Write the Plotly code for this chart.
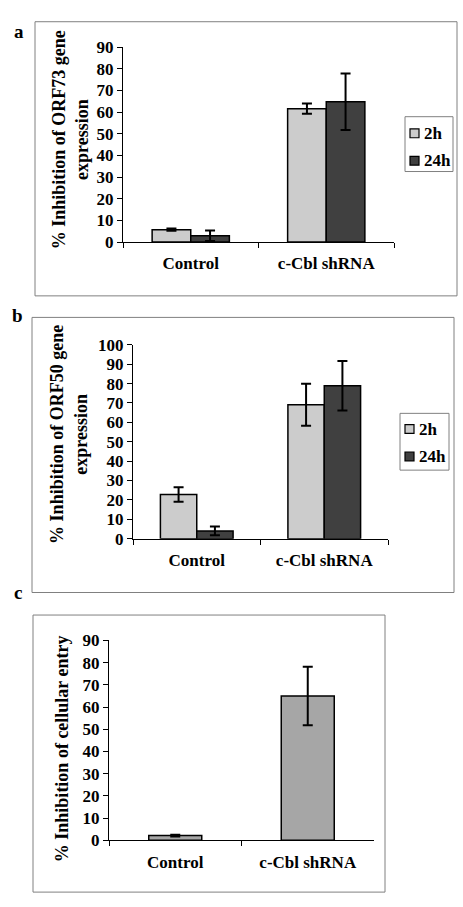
import plotly.graph_objects as go

# ---------------- data ----------------
categories = ["Control", "c-Cbl shRNA"]

# panel a: ORF73
a_2h = [5.7, 61.6]
a_2h_err = [0.5, 2.4]
a_24h = [2.9, 64.8]
a_24h_err = [2.4, 13.0]

# panel b: ORF50
b_2h = [22.8, 69.1]
b_2h_err = [3.7, 10.8]
b_24h = [4.0, 78.9]
b_24h_err = [2.3, 12.8]

# panel c: cellular entry
c_vals = [2.1, 65.0]
c_err = [0.4, 13.2]

series_names = ["2h", "24h"]

# ---------------- style ----------------
W, H = 463, 907
FONT = "Liberation Serif"
LIGHT = "#cccccc"
DARK = "#404040"
MID = "#a6a6a6"
series_colors = [LIGHT, DARK]
BOX = "#808080"


def fx(x):
    return x / W


def fy(y):
    return 1 - y / H


fig = go.Figure()

bar_line = dict(color="black", width=1.5)


def err(arr):
    return dict(type="data", array=arr, color="black", thickness=2, width=5, visible=True)


# panel a
fig.add_trace(go.Bar(x=categories, y=a_2h, error_y=err(a_2h_err), name=series_names[0],
                     marker=dict(color=LIGHT, line=bar_line), xaxis="x", yaxis="y"))
fig.add_trace(go.Bar(x=categories, y=a_24h, error_y=err(a_24h_err), name=series_names[1],
                     marker=dict(color=DARK, line=bar_line), xaxis="x", yaxis="y"))
# panel b
fig.add_trace(go.Bar(x=categories, y=b_2h, error_y=err(b_2h_err), name=series_names[0],
                     marker=dict(color=LIGHT, line=bar_line), xaxis="x2", yaxis="y2"))
fig.add_trace(go.Bar(x=categories, y=b_24h, error_y=err(b_24h_err), name=series_names[1],
                     marker=dict(color=DARK, line=bar_line), xaxis="x2", yaxis="y2"))
# panel c
fig.add_trace(go.Bar(x=categories, y=c_vals, error_y=err(c_err), name="c-Cbl", width=0.4,
                     marker=dict(color=MID, line=bar_line), xaxis="x3", yaxis="y3"))

tickfont = dict(family=FONT, size=17, color="black", weight="bold")


def xaxis(x0, x1, anchor):
    return dict(domain=[fx(x0), fx(x1)], anchor=anchor, type="category",
                showline=True, linecolor="black", linewidth=1,
                ticks="outside", tickson="boundaries", ticklen=5, tickcolor="black",
                tickfont=tickfont, ticklabelstandoff=6, showgrid=False, zeroline=False)


def yaxis(y0, y1, rng, anchor):
    return dict(domain=[fy(y1), fy(y0)], anchor=anchor, range=rng, dtick=10,
                showline=True, linecolor="black", linewidth=1,
                ticks="outside", ticklen=5, tickcolor="black",
                tickfont=tickfont, showgrid=False, zeroline=False)


title_font = dict(family=FONT, size=18, color="black", weight="bold")
label_font = dict(family=FONT, size=19, color="black", weight="bold")
legend_font = dict(family=FONT, size=17, color="black", weight="bold")

shapes = [
    dict(type="rect", xref="paper", yref="paper", x0=fx(35), x1=fx(457), y0=fy(293), y1=fy(13),
         line=dict(color=BOX, width=1)),
    dict(type="rect", xref="paper", yref="paper", x0=fx(32), x1=fx(454), y0=fy(596), y1=fy(315),
         line=dict(color=BOX, width=1)),
    dict(type="rect", xref="paper", yref="paper", x0=fx(33), x1=fx(385), y0=fy(902), y1=fy(619),
         line=dict(color=BOX, width=1)),
]
annotations = [
    dict(text="% Inhibition of ORF73 gene<br>expression", x=fx(70), y=fy(134), xref="paper", yref="paper",
         textangle=-90, showarrow=False, font=title_font, xanchor="center", yanchor="middle"),
    dict(text="% Inhibition of ORF50 gene<br>expression", x=fx(69), y=fy(435), xref="paper", yref="paper",
         textangle=-90, showarrow=False, font=title_font, xanchor="center", yanchor="middle"),
    dict(text="% Inhibition of cellular entry", x=fx(62), y=fy(756), xref="paper", yref="paper",
         textangle=-90, showarrow=False, font=title_font, xanchor="center", yanchor="middle"),
    dict(text="a", x=fx(12), y=fy(10), xref="paper", yref="paper", showarrow=False, font=label_font),
    dict(text="b", x=fx(10), y=fy(313), xref="paper", yref="paper", showarrow=False, font=label_font),
    dict(text="c", x=fx(12), y=fy(609), xref="paper", yref="paper", showarrow=False, font=label_font),
]

# legend keys (boxed), one per two-series panel: (box x0, x1, y0, y1, row centres)
legend_boxes = [
    (405, 453, 110, 166, [127, 155]),
    (400, 449, 413, 471, [429, 457]),
]
for bx0, bx1, by0, by1, rows in legend_boxes:
    shapes.append(dict(type="rect", xref="paper", yref="paper", x0=fx(bx0), x1=fx(bx1),
                       y0=fy(by1), y1=fy(by0), line=dict(color=BOX, width=1), fillcolor="white"))
    for name, color, yc in zip(series_names, series_colors, rows):
        sx0 = bx0 + 5
        shapes.append(dict(type="rect", xref="paper", yref="paper", x0=fx(sx0), x1=fx(sx0 + 9),
                           y0=fy(yc + 4.5), y1=fy(yc - 4.5), fillcolor=color,
                           line=dict(color="black", width=1.2)))
        annotations.append(dict(text=name, x=fx(sx0 + 12), y=fy(yc), xref="paper", yref="paper",
                                xanchor="left", yanchor="middle", showarrow=False, font=legend_font))

fig.update_layout(
    width=W, height=H, margin=dict(l=0, r=0, t=0, b=0),
    paper_bgcolor="white", plot_bgcolor="white", showlegend=False,
    barmode="group", bargap=0.43, bargroupgap=0,
    xaxis=xaxis(123, 394, "y"),
    yaxis=yaxis(39, 238, [0, 90], "x"),
    xaxis2=xaxis(133, 388, "y2"),
    yaxis2=yaxis(343, 541, [0, 100], "x2"),
    xaxis3=xaxis(109, 374, "y3"),
    yaxis3=yaxis(645, 849, [0, 90], "x3"),
    shapes=shapes,
    annotations=annotations,
)

fig.write_html("out.html", config={"displayModeBar": False},
               post_script="document.body.style.margin='0';document.body.style.overflow='hidden';")
